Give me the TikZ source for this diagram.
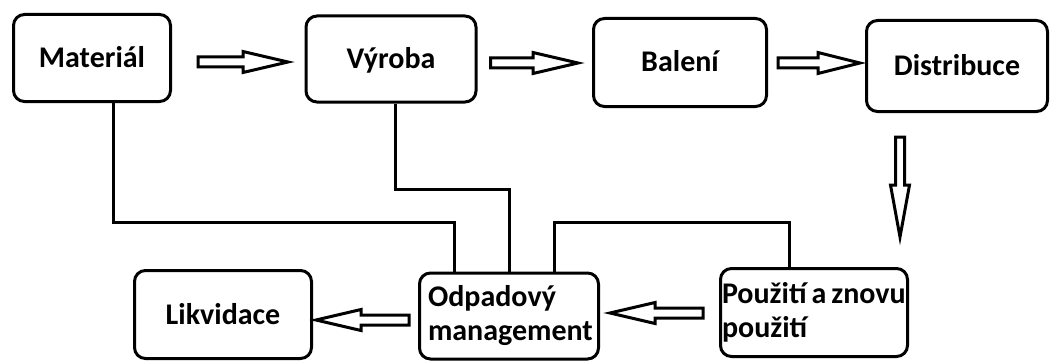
\documentclass[tikz,border=0pt]{standalone}
\usepackage{fontspec}
\setmainfont{Carlito}
\usetikzlibrary{calc}
\newcommand\blockarr[5]{% start, end, shaft half, head half, head length
  \draw[barrow] ($(#1)!#3!90:(#2)$) -- ($(#2)!#5!(#1)!#3!-90:(#1)$) -- ($(#2)!#5!(#1)!#4!-90:(#1)$) -- (#2)
   -- ($(#2)!#5!(#1)!#4!90:(#1)$) -- ($(#2)!#5!(#1)!#3!90:(#1)$) -- ($(#1)!#3!-90:(#2)$) -- cycle;}
\begin{document}
\begin{tikzpicture}[x=1pt,y=-1pt,
  box/.style={draw=black, line width=3pt, rounded corners=11pt, fill=white,
    font=\fontsize{30}{34}\selectfont\bfseries, inner sep=0pt},
  one/.style={text height=19pt, text depth=0pt},
  link/.style={draw=black, line width=3pt},
  barrow/.style={draw=black, line width=3pt, fill=white, line join=miter}]
\useasboundingbox (0,0) rectangle (1052,361);
\node[box, one, minimum width=157pt, minimum height=87pt] (mat) at (92,58) {Materiál};
\node[box, one, minimum width=170pt, minimum height=86pt] (vyr) at (391,59) {Výroba};
\node[box, one, minimum width=173pt, minimum height=88pt] (bal) at (680,62.5) {Balení};
\node[box, one, minimum width=181pt, minimum height=91pt] (dis) at (957,66) {Distribuce};
\node[box, minimum width=187pt, minimum height=88pt, text width=184pt, align=left] (pou) at (814,312.5) {Použití\hspace{5pt}a\hspace{5pt}znovu\\použití};
\node[box, minimum width=179pt, minimum height=86pt, text width=162pt, align=left] (odp) at (509,316) {Odpadový\\management};
\node[box, one, minimum width=177pt, minimum height=88pt] (lik) at (223,314.5) {Likvidace};
% connectors
\coordinate (j1) at (454,222);
\coordinate (j2) at (509,189);
\coordinate (j3) at (789,222);
\draw[link] ([xshift=21pt]mat.south) |- (j1) -- (j1 |- odp.north);
\draw[link] ([xshift=4pt]vyr.south) |- (j2) -- (j2 |- odp.north);
\draw[link] ([xshift=45pt]odp.north) |- (j3) -- (j3 |- pou.north);
% block arrows
\coordinate (a1s) at ([xshift=26pt]mat.east |- 0,62);
\coordinate (a1e) at (288,62);
\coordinate (a2s) at ([xshift=13pt]vyr.east |- 0,63);
\coordinate (a2e) at ([xshift=-14pt]bal.west |- 0,63);
\coordinate (a3s) at ([xshift=10pt]bal.east |- 0,63);
\coordinate (a3e) at ([xshift=-5pt]dis.west |- 0,63);
\coordinate (a4s) at (900,137);
\coordinate (a4e) at (900,237);
\coordinate (a5s) at ([xshift=-16pt]pou.west |- 0,313);
\coordinate (a5e) at ([xshift=10pt]odp.east |- 0,313);
\coordinate (a6s) at ([xshift=-9pt]odp.west |- 0,320);
\coordinate (a6e) at ([xshift=3pt]lik.east |- 0,320);
\blockarr{a1s}{a1e}{5pt}{10.5pt}{45pt}
\blockarr{a2s}{a2e}{5pt}{10.5pt}{45pt}
\blockarr{a3s}{a3e}{5pt}{10.5pt}{42pt}
\blockarr{a4s}{a4e}{4.5pt}{9.5pt}{52pt}
\blockarr{a5s}{a5e}{5pt}{10.5pt}{45pt}
\blockarr{a6s}{a6e}{5pt}{10.5pt}{45pt}
\end{tikzpicture}
\end{document}
